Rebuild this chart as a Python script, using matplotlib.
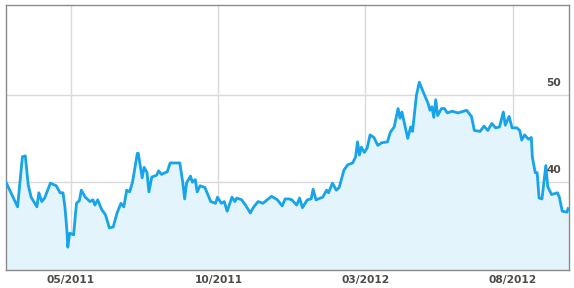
import matplotlib.pyplot as plt
import matplotlib.dates as mdates
import pandas as pd

# days since 2011-02-23, share price
days = [0, 12, 17, 20, 23, 26, 32, 34, 37, 40, 46, 52, 56, 59, 61, 63, 64, 66, 70, 73,
        76, 78, 82, 87, 90, 92, 95, 99, 103, 107, 111, 115, 119, 122, 125, 128, 131, 136, 137, 141,
        143, 146, 148, 151, 156, 158, 161, 167, 170, 180, 183, 185, 187, 191, 193, 196, 198, 201, 206, 212,
        217, 219, 223, 226, 229, 234, 237, 239, 244, 248, 253, 256, 261, 266, 275, 281, 286, 289, 293, 296,
        301, 304, 307, 312, 316, 318, 321, 328, 332, 334, 338, 342, 345, 350, 354, 359, 362, 364, 366, 368,
        371, 374, 377, 381, 385, 389, 395, 398, 402, 406, 408, 410, 413, 416, 419, 421, 425, 428, 432, 437,
        439, 441, 443, 445, 447, 451, 454, 457, 462, 468, 477, 482, 485, 491, 495, 499, 503, 507, 511, 515,
        517, 521, 524, 529, 532, 534, 537, 541, 544, 545, 548, 550, 552, 555, 559, 561, 565, 571, 573, 576,
        581, 582]
price = [40.0, 37.2, 42.9, 43.0, 39.7, 38.3, 37.2, 38.8, 37.8, 38.2, 39.9, 39.6, 38.8, 38.8, 37.2, 34.6, 32.6, 34.2, 34.0, 37.6,
         37.9, 39.1, 38.3, 37.8, 38.0, 37.4, 38.0, 36.9, 36.3, 34.8, 34.9, 36.5, 37.6, 37.2, 39.1, 38.9, 40.0, 43.3, 43.3, 40.5,
         41.7, 41.1, 38.9, 40.6, 40.8, 41.3, 40.9, 41.2, 42.2, 42.2, 40.0, 38.1, 39.9, 40.7, 40.0, 40.3, 38.9, 39.6, 39.4, 37.8,
         37.6, 38.3, 37.6, 37.8, 36.7, 38.3, 37.8, 38.2, 38.0, 37.4, 36.5, 37.1, 37.8, 37.6, 38.4, 38.0, 37.3, 38.1, 38.1, 38.0,
         37.4, 38.2, 37.1, 38.0, 38.1, 39.2, 38.0, 38.3, 39.1, 38.8, 39.9, 39.1, 39.4, 41.4, 42.0, 42.2, 42.9, 44.6, 43.1, 44.0,
         43.4, 43.9, 45.4, 45.1, 44.2, 44.5, 44.6, 45.7, 46.3, 48.4, 47.3, 48.0, 46.5, 45.0, 46.3, 45.8, 49.9, 51.4, 50.3, 49.0,
         48.2, 48.6, 47.4, 49.4, 47.6, 48.4, 48.4, 47.9, 48.1, 47.9, 48.2, 47.5, 45.9, 45.8, 46.4, 45.9, 46.7, 46.2, 46.3, 48.0,
         46.5, 47.5, 46.2, 46.2, 45.9, 44.8, 45.4, 44.9, 45.1, 42.9, 41.1, 41.1, 38.2, 38.1, 41.9, 39.5, 38.6, 38.8, 38.3, 36.7,
         36.6, 37.0]

start = pd.Timestamp('2011-02-23')
end = pd.Timestamp('2012-09-28')
month_ticks = ['2011-05-01', '2011-10-01', '2012-03-01', '2012-08-01']
value_ticks = [40, 50]

dates = start + pd.to_timedelta(days, unit='D')

fig = plt.figure(figsize=(5.74, 2.88), dpi=100)
ax = fig.add_axes([6 / 574, 18 / 288, 563 / 574, 265 / 288])

ax.fill_between(dates, price, 30, color='#e3f4fd', zorder=1)
ax.plot(dates, price, color='#17a4e8', lw=2, solid_joinstyle='round', zorder=3)

ax.set_xlim(start, end)
ax.set_ylim(30, 60.2)

ax.set_xticks(pd.to_datetime(month_ticks))
ax.xaxis.set_major_formatter(mdates.DateFormatter('%m/%Y'))
ax.set_yticks(value_ticks)
ax.grid(True, color='#dadada', lw=1, zorder=0)
ax.set_axisbelow(True)
ax.tick_params(axis='x', length=0, pad=3.5, labelsize=7.7, labelcolor='#4d4a47')
ax.tick_params(axis='y', length=0, labelleft=False)
for lab in ax.get_xticklabels():
    lab.set_fontweight('bold')

# value labels sit inside the plot, just above their gridline
for v in value_ticks:
    ax.annotate(str(v), xy=(1, v), xycoords=('axes fraction', 'data'),
                xytext=(-5.5, 5), textcoords='offset points', ha='right', va='bottom',
                fontsize=7.7, fontweight='bold', color='#4d4a47')

for s in ax.spines.values():
    s.set_color('#8a8a8a')
    s.set_linewidth(1)

fig.savefig('out.png', dpi=100)
